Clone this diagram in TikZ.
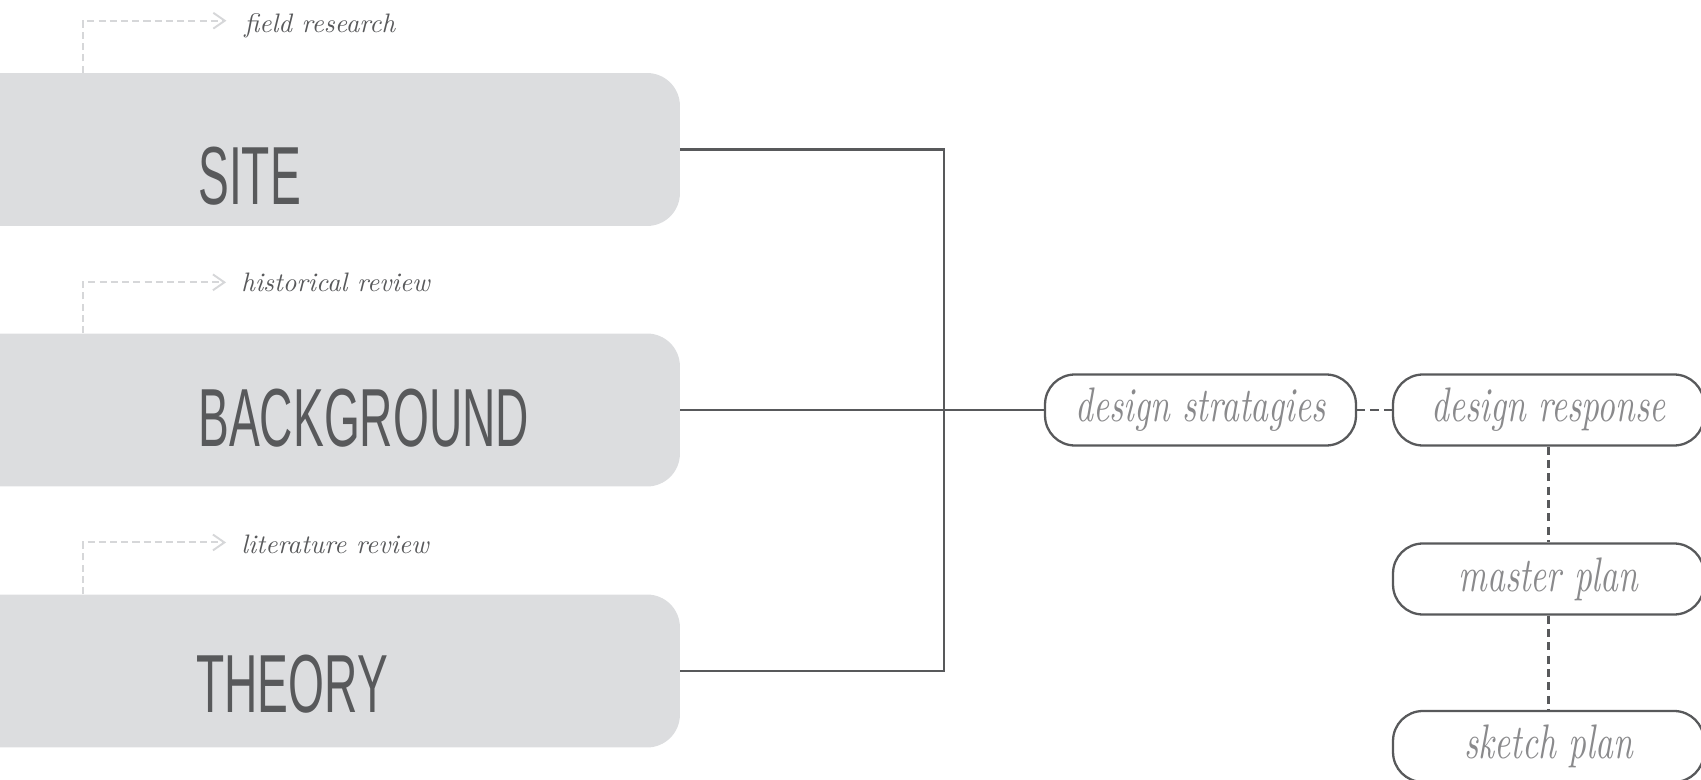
\documentclass[tikz,border=0pt]{standalone}
\usepackage{fontspec}
\usepackage{tikz}
\usetikzlibrary{arrows.meta}

\IfFontExistsTF{FiraSans-Light.otf}
  {\newfontfamily\headfont[FakeStretch=0.62]{FiraSans-Light.otf}}
  {\newfontfamily\headfont[FakeStretch=0.56]{Liberation Sans}}
\newfontfamily\notefont{lmroman10-italic.otf}
\newfontfamily\stagefont[FakeStretch=0.72]{lmroman10-italic.otf}

\definecolor{boxgrey}{HTML}{DCDDDF}
\definecolor{inkgrey}{HTML}{58595B}
\definecolor{softgrey}{HTML}{8A8A8C}
\definecolor{hintgrey}{HTML}{D6D7D9}

\tikzset{
  block/.style={fill=boxgrey, rounded corners=18.7pt, minimum width=14.4cm, minimum height=3.06cm, inner sep=0pt},
  heading/.style={anchor=base west, inner sep=0pt, text=inkgrey, font=\headfont\fontsize{46.9}{50}\selectfont},
  stage/.style={draw=inkgrey, line width=1.3pt, rounded corners=17pt, minimum width=6.22cm, minimum height=1.42cm, inner sep=0pt, text=softgrey, font=\stagefont\fontsize{27.6}{30}\selectfont},
  note/.style={anchor=base west, inner sep=0pt, text=inkgrey, font=\notefont\fontsize{15.2}{17}\selectfont},
  hint/.style={draw=hintgrey, line width=1.1pt, dash pattern=on 4pt off 2.4pt, -{Straight Barb[length=6.5pt,width=9pt]}},
  link/.style={draw=inkgrey, line width=1.35pt},
  dashlink/.style={link, dash pattern=on 4.6pt off 3pt}
}

\begin{document}
\begin{tikzpicture}[x=0.02cm, y=-0.02cm]
        \useasboundingbox (0,0) rectangle (1701,780) ;
        \clip (0,0) rectangle (1701,780) ;
        % left column
        \node[block] (site) at (320,149.5) {} ;
        \node[block] (background) at (320,410) {} ;
        \node[block] (theory) at (320,671) {} ;
        \node[heading] (sitetxt) at (198,205) {SITE} ;
        \node[heading] (backgroundtxt) at (198,447) {BACKGROUND} ;
        \node[heading] (theorytxt) at (196,712) {THEORY} ;
        % notes above the blocks
        \node[note] (fieldnote) at (244,33) {field research} ;
        \node[note] (historynote) at (241,292) {historical review} ;
        \node[note] (literaturenote) at (241,553) {literature review} ;
        \draw[hint, shorten >=10pt] (83,0 |- site.north) |- ([yshift=7pt]fieldnote.base west) ;
        \draw[hint, shorten >=8.5pt] (83,0 |- background.north) |- ([yshift=5.5pt]historynote.base west) ;
        \draw[hint, shorten >=8.5pt] (83,0 |- theory.north) |- ([yshift=6pt]literaturenote.base west) ;
        % right column
        \node[stage] (strat) at (1200.5,410) {design stratagies} ;
        \node[stage] (response) at (1548.5,410) {design response} ;
        \node[stage] (master) at (1548.5,579) {master plan} ;
        \node[stage] (sketch) at (1548.5,746.5) {sketch plan} ;
        \coordinate (hub) at (944,410) ;
        \draw[link] (site.east) -| (hub) |- (theory.east) ;
        \draw[link] (background.east) -- (strat.west) ;
        \draw[dashlink] (strat.east) -- (response.west) ;
        \draw[dashlink] (response.south) -- (master.north) ;
        \draw[dashlink] (master.south) -- (sketch.north) ;
    \end{tikzpicture}
\end{document}
